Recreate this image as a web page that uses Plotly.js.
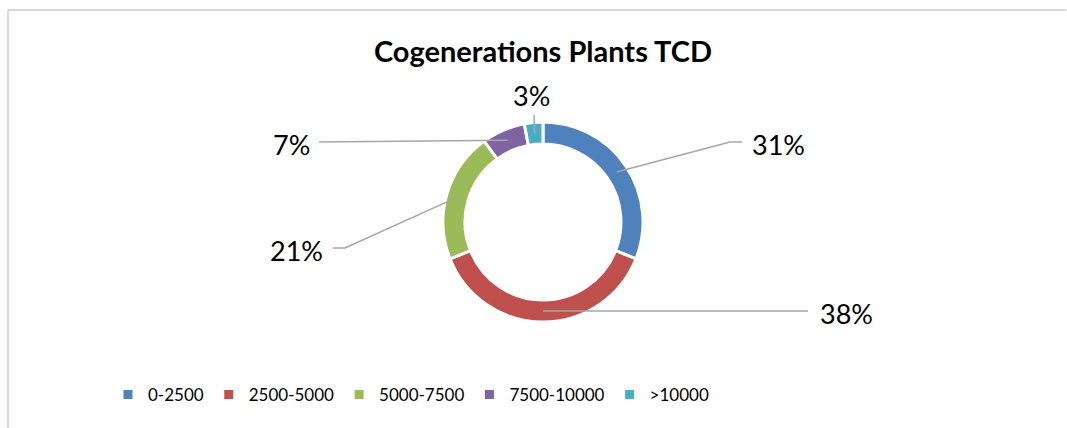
<!DOCTYPE html>
<html>
<head>
<meta charset="utf-8">
<script src="https://cdn.plot.ly/plotly-3.0.1.min.js"></script>
<style>
  html, body { margin: 0; padding: 0; background: #fff; }
  #chart { width: 1067px; height: 428px; }
</style>
</head>
<body>
<div id="chart"></div>
<script>
// chart data
const categories = ['0-2500', '2500-5000', '5000-7500', '7500-10000', '>10000'];
const shares = [31, 38, 21, 7, 3];
const colors = ['#4F81BD', '#C0504D', '#9BBB59', '#8064A2', '#4BACC6'];

// page geometry (pixels)
const W = 1067, H = 428;
const cx = 543, cy = 222, R = 100, HOLE = 0.78;

// where each data label sits and where its leader line bends
const labelAt = [[750, 145, 'left'], [818, 313, 'left'], [325, 250, 'right'], [312, 144, 'right'], [531, 95, 'center']];
const bendAt = [[[730, 142], [742, 142]], [[808, 311]], [[345, 248], [333, 248]], [[319, 142]], [[534, 115]]];

function px(x) { return x / W; }
function py(y) { return 1 - y / H; }

const total = shares.reduce((a, b) => a + b, 0);

var shapes = [];
var annotations = [];
var cum = 0;
for (let i = 0; i < shares.length; i++) {
    var mid = (cum + shares[i] / 2) / total * 2 * Math.PI;
    cum += shares[i];
    // leader starts in the middle of the ring
    var rMid = R * (1 + HOLE) / 2;
    var sx = cx + rMid * Math.sin(mid);
    var sy = cy - rMid * Math.cos(mid);
    var path = 'M' + px(sx) + ',' + py(sy);
    for (let p of bendAt[i]) {
        path += ' L' + px(p[0]) + ',' + py(p[1]);
    }
    shapes.push({
        type: 'path', xref: 'paper', yref: 'paper', path: path,
        line: {color: '#A6A6A6', width: 1.5}
    });
    annotations.push({
        xref: 'paper', yref: 'paper',
        x: px(labelAt[i][0]), y: py(labelAt[i][1]),
        xanchor: labelAt[i][2], yanchor: 'middle',
        text: Math.round(shares[i] / total * 100) + '%',
        showarrow: false,
        font: {family: 'Lato, sans-serif', size: 27, color: '#000'}
    });
}

// chart frame
shapes.push({type: 'line', xref: 'paper', yref: 'paper', x0: px(8), x1: px(1066), y0: py(10), y1: py(10), line: {color: '#D9D9D9', width: 2}});
shapes.push({type: 'line', xref: 'paper', yref: 'paper', x0: px(8), x1: px(8), y0: py(10), y1: 0, line: {color: '#D9D9D9', width: 2}});

var donut = {
    type: 'pie',
    labels: categories,
    values: shares,
    hole: HOLE,
    sort: false,
    direction: 'clockwise',
    rotation: 0,
    textinfo: 'none',
    hoverinfo: 'none',
    marker: {colors: colors, line: {color: '#fff', width: 3}},
    domain: {x: [px(cx - R), px(cx + R)], y: [py(cy + R), py(cy - R)]}
};

var layout = {
    width: W,
    height: H,
    margin: {l: 0, r: 0, t: 0, b: 0},
    paper_bgcolor: '#fff',
    title: {
        text: 'Cogenerations Plants TCD',
        x: px(543), xanchor: 'center',
        y: py(52), yanchor: 'middle',
        font: {family: 'Lato, sans-serif', size: 29, weight: 700, color: '#000'}
    },
    showlegend: true,
    legend: {
        orientation: 'h',
        x: px(411), xanchor: 'center',
        y: py(395), yanchor: 'middle',
        font: {family: 'Lato, sans-serif', size: 17, color: '#000'},
        itemwidth: 30
    },
    shapes: shapes,
    annotations: annotations
};

Plotly.newPlot('chart', [donut], layout, {staticPlot: true});
</script>
</body>
</html>
